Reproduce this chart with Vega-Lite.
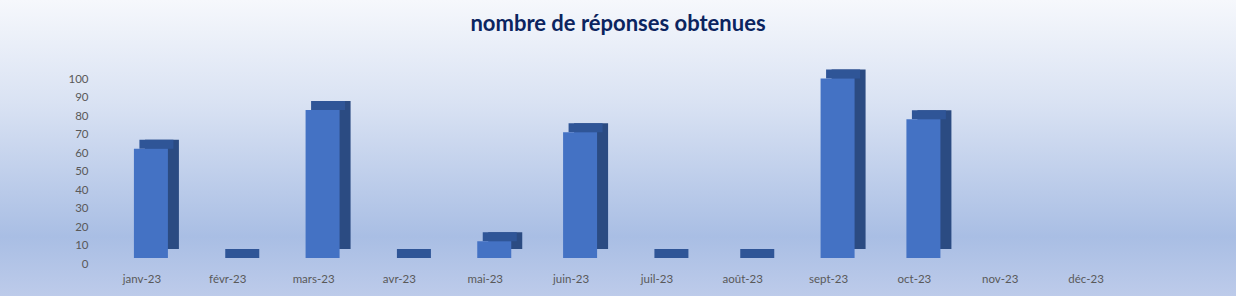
{
  "$schema": "https://vega.github.io/schema/vega-lite/v6.json",
  "width": 1236,
  "height": 296,
  "autosize": {"type": "none"},
  "padding": 0,
  "background": "#dfe6f4",
  "config": {
    "view": {
      "stroke": null,
      "fill": {
        "gradient": "linear",
        "x1": 0, "y1": 0, "x2": 0, "y2": 1,
        "stops": [
          {"offset": 0, "color": "#f6f8fc"},
          {"offset": 0.35, "color": "#d9e2f3"},
          {"offset": 0.8, "color": "#a9bee4"},
          {"offset": 1, "color": "#bdcbea"}
        ]
      }
    }
  },
  "title": {
    "text": "nombre de réponses obtenues",
    "font": "Lato",
    "fontSize": 22,
    "fontWeight": "bold",
    "color": "#0b2460",
    "anchor": "middle",
    "baseline": "alphabetic",
    "offset": -29,
    "dy": 24
  },
  "data": {
    "values": [
      {"mois": "janv-23", "v": 59},
      {"mois": "févr-23", "v": 0},
      {"mois": "mars-23", "v": 80},
      {"mois": "avr-23", "v": 0},
      {"mois": "mai-23", "v": 9},
      {"mois": "juin-23", "v": 68},
      {"mois": "juil-23", "v": 0},
      {"mois": "août-23", "v": 0},
      {"mois": "sept-23", "v": 97},
      {"mois": "oct-23", "v": 75},
      {"mois": "nov-23", "v": null},
      {"mois": "déc-23", "v": null}
    ]
  },
  "encoding": {
    "x": {
      "field": "mois",
      "type": "nominal",
      "sort": null,
      "scale": {
        "domain": ["janv-23", "févr-23", "mars-23", "avr-23", "mai-23", "juin-23", "juil-23", "août-23", "sept-23", "oct-23", "nov-23", "déc-23"],
        "range": [99, 1129],
        "paddingInner": 0,
        "paddingOuter": 0
      },
      "axis": {
        "title": null,
        "orient": "bottom",
        "offset": -23,
        "domain": false,
        "ticks": false,
        "labelAngle": 0,
        "labelBaseline": "middle",
        "labelPadding": 6,
        "labelFont": "Lato",
        "labelFontSize": 11.5,
        "labelColor": "#595959"
      }
    },
    "y": {
      "field": "v",
      "type": "quantitative",
      "scale": {"domain": [-20.54, 139.46], "nice": false, "zero": false},
      "axis": {
        "title": null,
        "orient": "left",
        "offset": -95,
        "domain": false,
        "ticks": false,
        "grid": false,
        "values": [0, 10, 20, 30, 40, 50, 60, 70, 80, 90, 100],
        "labelOverlap": false,
        "labelPadding": 7,
        "labelOffset": 6,
        "labelFont": "Lato",
        "labelFontSize": 11.5,
        "labelColor": "#595959"
      }
    }
  },
  "layer": [
    {
      "mark": {"type": "bar", "width": 34, "xOffset": 20, "yOffset": -9, "y2Offset": -9, "color": "#2b4b82"},
      "encoding": {
        "y2": {"datum": 0}
      }
    },
    {
      "mark": {"type": "bar", "width": 34, "xOffset": 14.5, "yOffset": -9, "y2Offset": 0, "color": "#2f5597"},
      "encoding": {
        "y2": {"field": "v"}
      }
    },
    {
      "mark": {"type": "bar", "width": 34, "xOffset": 9, "color": "#4472c4"},
      "encoding": {
        "y2": {"datum": 0}
      }
    }
  ]
}
